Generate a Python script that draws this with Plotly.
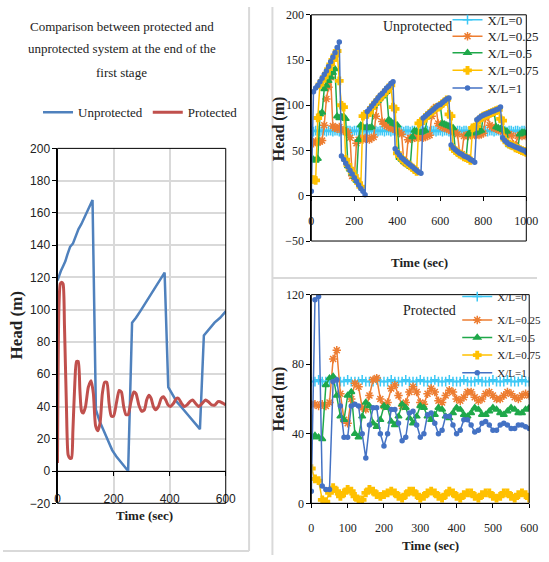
import plotly.graph_objects as go

SERIF = "Liberation Serif, Times New Roman, serif"
NARROW = "Liberation Sans Narrow, Arial Narrow, Liberation Sans, sans-serif"

# ---------------- Left chart data (Comparison) ----------------
left_unprot_t = [0, 5, 12, 20, 28, 35, 45, 55, 65, 75, 85, 95, 105, 115, 125,
                 137, 150, 165, 180, 195, 210, 225, 240, 252,
                 266, 280, 295, 310, 325, 340, 355, 370, 382,
                 395, 410, 425, 440, 455, 470, 485, 500, 508,
                 522, 540, 560, 580, 600]
left_unprot_h = [118, 121, 124, 127, 130, 134, 139, 141, 146, 150, 153, 157, 160, 164, 168,
                 38, 31, 25, 19, 13, 9, 6, 3, 0,
                 92, 95, 99, 103, 107, 111, 115, 119, 123,
                 52, 47, 43, 40, 37, 34, 31, 28, 26,
                 84, 88, 92, 95, 99]

left_prot_t = [0, 5, 10, 15, 20, 25, 32, 38, 44, 50, 55, 62, 68, 74, 80, 86, 92, 100,
               110, 120, 128, 136, 144, 152, 160, 168, 176, 184, 192, 200, 210, 220,
               228, 236, 244, 252, 262, 272, 280, 290, 300, 310, 318, 326, 334, 342,
               350, 360, 370, 378, 386, 394, 402, 414, 424, 432, 442, 452, 462, 472,
               482, 492, 504, 516, 528, 538, 550, 562, 572, 580, 590, 600]
left_prot_h = [5, 100, 116, 117, 116, 90, 40, 10, 8, 8, 25, 55, 68, 68, 50, 37, 36, 40,
               52, 56, 48, 28, 25, 30, 48, 55, 55, 42, 34, 34, 42, 50,
               49, 40, 35, 35, 43, 49, 48, 41, 37, 38, 44, 47, 45, 40,
               38, 40, 45, 46, 44, 41, 40, 42, 45, 45, 42, 40, 41, 43,
               44, 42, 40, 42, 44, 43, 41, 41, 43, 43, 42, 41]

# ---------------- Top-right chart data (Unprotected) ----------------
top_t = list(range(0, 1001, 10))
top_xl0 = [72, 71, 72, 72, 71, 72, 72, 71, 72, 72,
           71, 72, 72, 71, 72, 72, 71, 72, 72, 71,
           72, 72, 71, 72, 72, 71, 72, 72, 71, 72,
           72, 71, 72, 72, 71, 72, 72, 71, 72, 72,
           71, 72, 72, 71, 72, 72, 71, 72, 72, 71,
           72, 72, 71, 72, 72, 71, 72, 72, 71, 72,
           72, 71, 72, 72, 71, 72, 72, 71, 72, 72,
           71, 72, 72, 71, 72, 72, 71, 72, 72, 71,
           72, 72, 71, 72, 72, 71, 72, 72, 71, 72,
           72, 71, 72, 72, 71, 72, 72, 71, 72, 72,
           71]
top_xl025 = [60, 58, 60, 59, 60, 61, 78, 107, 120, 131,
             77, 75, 74, 76, 73, 72, 71, 70, 64, 22,
             20, 58, 62, 63, 62, 64, 63, 62, 64, 65,
             88, 105, 108, 82, 79, 77, 76, 75, 74, 73,
             72, 70, 68, 38, 36, 62, 64, 63, 64, 65,
             64, 65, 64, 65, 66, 67, 88, 96, 98, 80,
             77, 76, 75, 74, 73, 72, 71, 70, 68, 47,
             46, 66, 67, 66, 67, 68, 67, 68, 67, 68,
             69, 86, 90, 78, 76, 75, 74, 73, 72, 71,
             70, 69, 68, 67, 57, 56, 66, 67, 66, 67,
             66]
top_xl05 = [40, 40, 39, 41, 90, 92, 118, 122, 127, 131,
            136, 140, 88, 86, 87, 88, 85, 33, 29, 25,
            21, 17, 62, 78, 76, 75, 76, 75, 76, 99,
            102, 105, 108, 110, 113, 115, 84, 82, 80, 79,
            78, 42, 40, 38, 36, 34, 32, 65, 72, 71,
            70, 70, 71, 72, 88, 91, 93, 95, 97, 98,
            100, 80, 79, 78, 77, 76, 75, 50, 48, 46,
            45, 43, 42, 68, 70, 70, 69, 70, 71, 72,
            88, 89, 90, 91, 92, 93, 76, 75, 74, 73,
            72, 71, 56, 55, 54, 53, 52, 68, 70, 70,
            69]
top_xl075 = [18, 18, 17, 86, 123, 127, 131, 135, 140, 145,
             150, 155, 160, 127, 100, 98, 40, 34, 30, 26,
             22, 18, 14, 10, 88, 90, 90, 92, 97, 100,
             103, 106, 109, 111, 114, 116, 119, 122, 98, 96,
             47, 44, 41, 39, 37, 35, 33, 31, 29, 27,
             80, 82, 83, 86, 89, 91, 93, 95, 97, 98,
             100, 102, 104, 106, 90, 88, 52, 50, 48, 46,
             45, 43, 42, 41, 39, 75, 76, 77, 84, 86,
             88, 89, 90, 91, 92, 93, 94, 95, 85, 83,
             62, 59, 57, 56, 55, 53, 52, 51, 50, 49,
             48]
top_xl1 = [5, 115, 119, 122, 126, 130, 134, 138, 143, 148,
           153, 158, 164, 170, 44, 40, 36, 32, 28, 24,
           20, 16, 12, 8, 5, 1, 93, 96, 99, 102,
           105, 108, 111, 113, 116, 119, 121, 124, 126, 52,
           48, 45, 42, 40, 38, 36, 34, 32, 30, 28,
           26, 25, 86, 88, 90, 92, 94, 96, 98, 100,
           101, 103, 105, 107, 108, 56, 53, 51, 49, 47,
           46, 44, 43, 42, 40, 39, 37, 84, 86, 88,
           89, 90, 91, 92, 93, 94, 95, 96, 98, 64,
           61, 59, 57, 56, 55, 54, 53, 52, 51, 50,
           48]

# ---------------- Bottom-right chart data (Protected) ----------------
bot_t = list(range(0, 601, 10))
bot_xl0 = [70, 70, 71, 70, 70, 70, 71, 70, 70, 70,
           71, 70, 70, 70, 71, 70, 70, 70, 71, 70,
           70, 70, 71, 70, 70, 70, 71, 70, 70, 70,
           71, 70, 70, 70, 71, 70, 70, 70, 71, 70,
           70, 70, 71, 70, 70, 70, 71, 70, 70, 70,
           71, 70, 70, 70, 71, 70, 70, 70, 71, 70,
           70]
bot_xl025 = [57, 57, 56, 57, 56, 58, 83, 88, 63, 48,
             46, 60, 69, 67, 55, 54, 62, 71, 72, 60,
             56, 58, 66, 68, 62, 56, 58, 64, 67, 64,
             58, 57, 63, 66, 64, 59, 58, 62, 65, 64,
             60, 59, 61, 64, 64, 61, 59, 60, 63, 64,
             62, 60, 60, 62, 64, 63, 61, 60, 62, 63,
             62]
bot_xl05 = [38, 39, 38, 37, 68, 72, 73, 62, 50, 48,
            62, 64, 40, 38, 50, 58, 56, 46, 44, 48,
            56, 55, 47, 45, 50, 57, 55, 49, 46, 50,
            56, 55, 50, 48, 51, 55, 54, 50, 49, 52,
            55, 54, 51, 50, 52, 55, 54, 51, 51, 53,
            55, 54, 52, 51, 53, 55, 54, 52, 52, 54,
            55]
bot_xl075 = [20, 14, 13, 2, 1, 6, 9, 7, 4, 6,
             8, 7, 4, 2, 2, 6, 8, 7, 5, 4,
             5, 6, 7, 6, 4, 3, 5, 7, 7, 5,
             3, 4, 6, 7, 6, 4, 3, 5, 7, 6,
             4, 3, 5, 6, 6, 4, 3, 5, 6, 6,
             4, 3, 4, 6, 6, 4, 3, 5, 6, 5,
             3]
bot_xl1 = [7, 117, 119, 10, 8, 8, 70, 71, 56, 38,
           38, 56, 57, 56, 40, 26, 45, 55, 55, 40,
           33, 40, 54, 54, 46, 36, 38, 52, 53, 45,
           38, 40, 51, 52, 46, 40, 42, 50, 50, 45,
           40, 42, 48, 48, 45, 41, 42, 46, 47, 45,
           42, 42, 45, 46, 45, 43, 43, 45, 45, 44,
           43]

series_names = ["X/L=0", "X/L=0.25", "X/L=0.5", "X/L=0.75", "X/L=1"]
series_colors = ["#3CC8F5", "#ED7D31", "#1FA84A", "#FFC000", "#4472C4"]
series_symbols = ["cross-thin-open", "asterisk-open", "triangle-up", "cross", "circle"]
series_msize = [7, 7, 6, 6, 4]

W, H = 549, 562
def px(x):
    return x / W
def py(y):
    return 1 - y / H

# legend entry centres (pixels) for the right-hand charts
top_leg_y = [13, 30, 47, 65, 83]
bot_leg_y = [297, 321, 339, 357, 375]

fig = go.Figure()

# Left chart
fig.add_trace(go.Scatter(x=left_unprot_t, y=left_unprot_h, mode="lines", name="Unprotected",
                         line=dict(color="#4F81BD", width=2.5),
                         xaxis="x", yaxis="y", legend="legend"))
fig.add_trace(go.Scatter(x=left_prot_t, y=left_prot_h, mode="lines", name="Protected",
                         line=dict(color="#C0504D", width=3, shape="spline", smoothing=0.6),
                         xaxis="x", yaxis="y", legend="legend"))

top_data = [top_xl0, top_xl025, top_xl05, top_xl075, top_xl1]
bot_data = [bot_xl0, bot_xl025, bot_xl05, bot_xl075, bot_xl1]
for i in range(5):
    mk = dict(color=series_colors[i], symbol=series_symbols[i], size=series_msize[i],
              line=dict(color=series_colors[i], width=1.5))
    fig.add_trace(go.Scatter(x=top_t, y=top_data[i], mode="lines+markers", name=series_names[i],
                             line=dict(color=series_colors[i], width=1.5), marker=mk,
                             xaxis="x2", yaxis="y2", legend="legend%d" % (2 + i)))
for i in range(5):
    mk = dict(color=series_colors[i], symbol=series_symbols[i], size=series_msize[i],
              line=dict(color=series_colors[i], width=1.5))
    fig.add_trace(go.Scatter(x=bot_t, y=bot_data[i], mode="lines+markers", name=series_names[i],
                             line=dict(color=series_colors[i], width=1.5), marker=mk,
                             xaxis="x3", yaxis="y3", legend="legend%d" % (7 + i)))

# domains
L_x = [px(56), px(229)]
L_y = [py(509), py(145)]
T_x = [px(317), px(538)]
T_y = [py(240), py(8)]
B_x = [px(317), px(541)]
B_y = [py(509), py(295)]

left_zero = L_y[0] + (20 / 220) * (L_y[1] - L_y[0])
top_zero = T_y[0] + (50 / 250) * (T_y[1] - T_y[0])

tick_left = dict(family=NARROW, size=12, color="#222")
tick_right = dict(family=SERIF, size=12, color="#222")

axis_common = dict(showline=True, linecolor="black", linewidth=1, ticks="outside",
                   tickcolor="black", ticklen=4, zeroline=False)

layout = dict(
    width=W, height=H, margin=dict(l=0, r=0, t=0, b=0),
    paper_bgcolor="white", plot_bgcolor="white",
    xaxis=dict(domain=L_x, range=[0, 600], dtick=200, anchor="free", position=left_zero,
               showgrid=True, gridcolor="#d9d9d9", gridwidth=1.5, tickfont=tick_left,
               ticklabelstandoff=13, **axis_common),
    yaxis=dict(domain=L_y, range=[-20, 200], dtick=20, anchor="x",
               showgrid=True, gridcolor="#d9d9d9", gridwidth=1.5, tickfont=tick_left,
               **axis_common),
    xaxis2=dict(domain=T_x, range=[0, 1000], dtick=200, anchor="free", position=top_zero,
                showgrid=False, tickfont=tick_right, ticklabelstandoff=10, **axis_common),
    yaxis2=dict(domain=T_y, range=[-50, 200], dtick=50, anchor="x2",
                showgrid=False, tickfont=tick_right, **axis_common),
    xaxis3=dict(domain=B_x, range=[0, 600], dtick=100, anchor="y3",
                showgrid=False, tickfont=tick_right, ticklabelstandoff=9, **axis_common),
    yaxis3=dict(domain=B_y, range=[0, 120], dtick=40, anchor="x3",
                showgrid=False, tickfont=tick_right, **axis_common),
    legend=dict(orientation="h", x=px(36), y=py(108), xanchor="left", yanchor="middle",
                font=dict(family=SERIF, size=13, color="#222"), bgcolor="rgba(0,0,0,0)"),
    showlegend=True,
)
for i in range(5):
    layout["legend%d" % (2 + i)] = dict(x=px(457), y=py(top_leg_y[i]), xanchor="left", yanchor="middle",
                                        font=dict(family=SERIF, size=13, color="#222"),
                                        bgcolor="rgba(0,0,0,0)")
    layout["legend%d" % (7 + i)] = dict(x=px(467), y=py(bot_leg_y[i]), xanchor="left", yanchor="middle",
                                        font=dict(family=SERIF, size=11, color="#222"),
                                        bgcolor="rgba(0,0,0,0)")
fig.update_layout(**layout)

shapes = []
# plot boxes
for dx, dy in [(L_x, L_y), (T_x, T_y), (B_x, B_y)]:
    shapes.append(dict(type="rect", xref="paper", yref="paper", x0=dx[0], x1=dx[1],
                       y0=dy[0], y1=dy[1], line=dict(color="black", width=1)))
# panel separators
sep = dict(color="#d9d9d9", width=2)
shapes.append(dict(type="line", xref="paper", yref="paper", x0=px(253), x1=px(253), y0=py(558), y1=1, line=sep))
shapes.append(dict(type="line", xref="paper", yref="paper", x0=0, x1=px(253), y0=py(558), y1=py(558), line=sep))
shapes.append(dict(type="line", xref="paper", yref="paper", x0=px(277), x1=px(277), y0=0, y1=1, line=sep))
shapes.append(dict(type="line", xref="paper", yref="paper", x0=px(277), x1=1, y0=py(278), y1=py(278), line=sep))
fig.update_layout(shapes=shapes)

def ann(text, x, y, size, bold=False, angle=0):
    t = "<b>" + text + "</b>" if bold else text
    return dict(text=t, x=px(x), y=py(y), xref="paper", yref="paper", showarrow=False,
                xanchor="center", yanchor="middle", textangle=angle,
                font=dict(family=SERIF, size=size, color="#222"))

annotations = [
    ann("Comparison between protected and", 122, 20, 13),
    ann("unprotected system at the end of the", 122, 43, 13),
    ann("first stage", 122, 67, 13),
    ann("Head (m)", 14, 327, 17, bold=True, angle=-90),
    ann("Time (sec)", 145, 522, 13, bold=True),
    ann("Unprotected", 426, 20, 14),
    ann("Head (m)", 284, 125, 16, bold=True, angle=-90),
    ann("Time (sec)", 428, 262, 13, bold=True),
    ann("Protected", 438, 311, 14),
    ann("Head (m)", 284, 402, 16, bold=True, angle=-90),
    ann("Time (sec)", 439, 552, 13, bold=True),
]
fig.update_layout(annotations=annotations)

fig.write_html("out.html")
